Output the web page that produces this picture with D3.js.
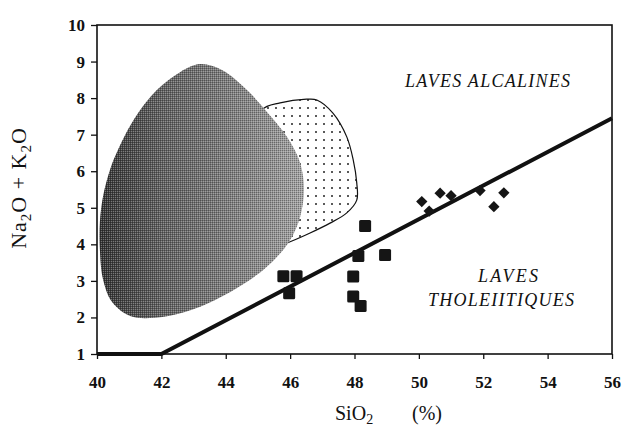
<!DOCTYPE html>
<html lang="en">
    <head>
        <meta charset="UTF-8" />
        <title>Na2O + K2O vs SiO2</title>
        <style>
            body {
                margin: 0;
                background: #fff;
            }
            .tick text {
                font: bold 17px "Liberation Serif", serif;
                fill: #111;
            }
            .tick line {
                stroke: #111;
                stroke-width: 1.3px;
            }
            .label {
                font: 20px "Liberation Serif", serif;
                fill: #111;
            }
            .field {
                font: italic 18px "Liberation Serif", serif;
                fill: #111;
            }
        </style>
    </head>
    <body>
        <script src="https://cdnjs.cloudflare.com/ajax/libs/d3/7.9.0/d3.min.js"></script>
        <svg width="624" height="429"></svg>
        <script>
            // ticks
            const xTicks = [40, 42, 44, 46, 48, 50, 52, 54, 56];
            const yTicks = [1, 2, 3, 4, 5, 6, 7, 8, 9, 10];

            // alkaline / tholeiitic dividing line
            const divider = [[40, 1], [42, 1], [56, 7.45]];

            // grey field (outline, SiO2 / alkalis)
            const darkField = [
                [43.2, 8.93], [43.88, 8.77], [44.66, 8.22], [45.28, 7.62], [45.9, 6.94],
                [46.31, 6.23], [46.43, 5.49], [46.31, 4.75], [46.0, 4.12], [45.44, 3.52],
                [44.6, 2.94], [43.67, 2.48], [42.73, 2.15], [41.8, 1.99], [41.03, 2.04],
                [40.47, 2.42], [40.19, 3.03], [40.09, 3.85], [40.09, 4.61], [40.19, 5.32],
                [40.4, 6.03], [40.65, 6.58], [41.18, 7.46], [41.86, 8.22], [42.58, 8.71]
            ];
            // dotted field
            const dotField = [
                [45.13, 7.68], [45.69, 7.87], [46.51, 7.97], [46.83, 7.95], [47.33, 7.59],
                [47.76, 6.94], [47.96, 6.31], [48.07, 5.68], [48.07, 5.21], [47.76, 4.86],
                [47.24, 4.58], [46.62, 4.31], [46.0, 4.07], [45.47, 3.9], [45.06, 5.21],
                [44.91, 6.58]
            ];

            // squares
            const sqSiO2 = [48.33, 45.79, 46.2, 45.97, 48.12, 48.95, 47.96, 47.96, 48.19];
            const sqAlk = [4.5, 3.13, 3.13, 2.66, 3.68, 3.71, 3.12, 2.57, 2.31];
            // diamonds
            const dmSiO2 = [50.09, 50.66, 51.0, 50.32, 51.9, 52.64, 52.33];
            const dmAlk = [5.17, 5.4, 5.33, 4.91, 5.47, 5.41, 5.03];

            const svg = d3.select("svg");
            const x = d3.scaleLinear().domain([40, 56]).range([97, 612]);
            const y = d3.scaleLinear().domain([1, 10]).range([354, 25]);

            const defs = svg.append("defs");
            const grad = defs.append("linearGradient").attr("id", "greyGrad");
            [[0, "#333"], [0.3, "#606060"], [0.7, "#858585"], [1, "#a4a4a4"]].forEach((s) =>
                grad.append("stop").attr("offset", s[0]).attr("stop-color", s[1])
            );
            const checker = defs.append("pattern").attr("id", "checker")
                .attr("width", 2).attr("height", 2).attr("patternUnits", "userSpaceOnUse");
            checker.append("rect").attr("width", 1).attr("height", 1).attr("fill", "#000");
            checker.append("rect").attr("x", 1).attr("y", 1).attr("width", 1).attr("height", 1).attr("fill", "#fff");
            const dots = defs.append("pattern").attr("id", "dots")
                .attr("width", 8).attr("height", 8).attr("patternUnits", "userSpaceOnUse");
            dots.append("rect").attr("width", 8).attr("height", 8).attr("fill", "#fff");
            dots.append("circle").attr("cx", 4).attr("cy", 4).attr("r", 1).attr("fill", "#222");

            const area = d3.line().x((d) => x(d[0])).y((d) => y(d[1])).curve(d3.curveCatmullRomClosed);

            svg.append("path").attr("d", area(dotField))
                .attr("fill", "url(#dots)").attr("stroke", "#111").attr("stroke-width", 1.2);
            svg.append("path").attr("d", area(darkField)).attr("fill", "url(#greyGrad)");
            svg.append("path").attr("d", area(darkField)).attr("fill", "url(#checker)").attr("opacity", 0.3);

            // axes
            svg.append("g").attr("transform", `translate(0,${y(1)})`)
                .call(d3.axisBottom(x).tickValues(xTicks).tickSize(5).tickPadding(17))
                .call((g) => g.select(".domain").remove());
            svg.append("g").attr("transform", `translate(${x(40)},0)`)
                .call(d3.axisLeft(y).tickValues(yTicks).tickSize(6).tickPadding(6))
                .call((g) => g.select(".domain").remove());

            svg.append("rect")
                .attr("x", x(40)).attr("y", y(10))
                .attr("width", x(56) - x(40)).attr("height", y(1) - y(10))
                .attr("fill", "none").attr("stroke", "#111").attr("stroke-width", 1.6);

            svg.append("path")
                .attr("d", d3.line().x((d) => x(d[0])).y((d) => y(d[1]))(divider))
                .attr("fill", "none").attr("stroke", "#111").attr("stroke-width", 4);

            svg.append("g").selectAll("rect")
                .data(sqSiO2.map((v, i) => [v, sqAlk[i]]))
                .join("rect")
                .attr("x", (d) => x(d[0]) - 6).attr("y", (d) => y(d[1]) - 6)
                .attr("width", 12).attr("height", 12).attr("rx", 1.5)
                .attr("fill", "#151515");

            svg.append("g").selectAll("rect")
                .data(dmSiO2.map((v, i) => [v, dmAlk[i]]))
                .join("rect")
                .attr("x", -4).attr("y", -4).attr("width", 8).attr("height", 8)
                .attr("transform", (d) => `translate(${x(d[0])},${y(d[1])}) rotate(45)`)
                .attr("fill", "#151515");

            // field labels
            svg.append("text").attr("class", "field").attr("x", 405).attr("y", 87)
                .attr("textLength", 165).attr("lengthAdjust", "spacing").text("LAVES ALCALINES");
            svg.append("text").attr("class", "field").attr("x", 478).attr("y", 282)
                .attr("textLength", 60).attr("lengthAdjust", "spacing").text("LAVES");
            svg.append("text").attr("class", "field").attr("x", 428).attr("y", 306)
                .attr("textLength", 146).attr("lengthAdjust", "spacing").text("THOLEIITIQUES");

            // axis titles
            const yt = svg.append("text").attr("class", "label")
                .attr("transform", "translate(26,188) rotate(-90)")
                .attr("text-anchor", "middle").style("font-size", "22px").style("letter-spacing", "1px");
            yt.append("tspan").text("Na");
            yt.append("tspan").attr("dy", 5).style("font-size", "15px").text("2");
            yt.append("tspan").attr("dy", -5).text("O + K");
            yt.append("tspan").attr("dy", 5).style("font-size", "15px").text("2");
            yt.append("tspan").attr("dy", -5).text("O");

            const xt = svg.append("text").attr("class", "label").attr("x", 335).attr("y", 420);
            xt.append("tspan").text("SiO");
            xt.append("tspan").attr("dy", 4).style("font-size", "14px").text("2");
            svg.append("text").attr("class", "label").attr("x", 412).attr("y", 420).text("(%)");
        </script>
    </body>
</html>
